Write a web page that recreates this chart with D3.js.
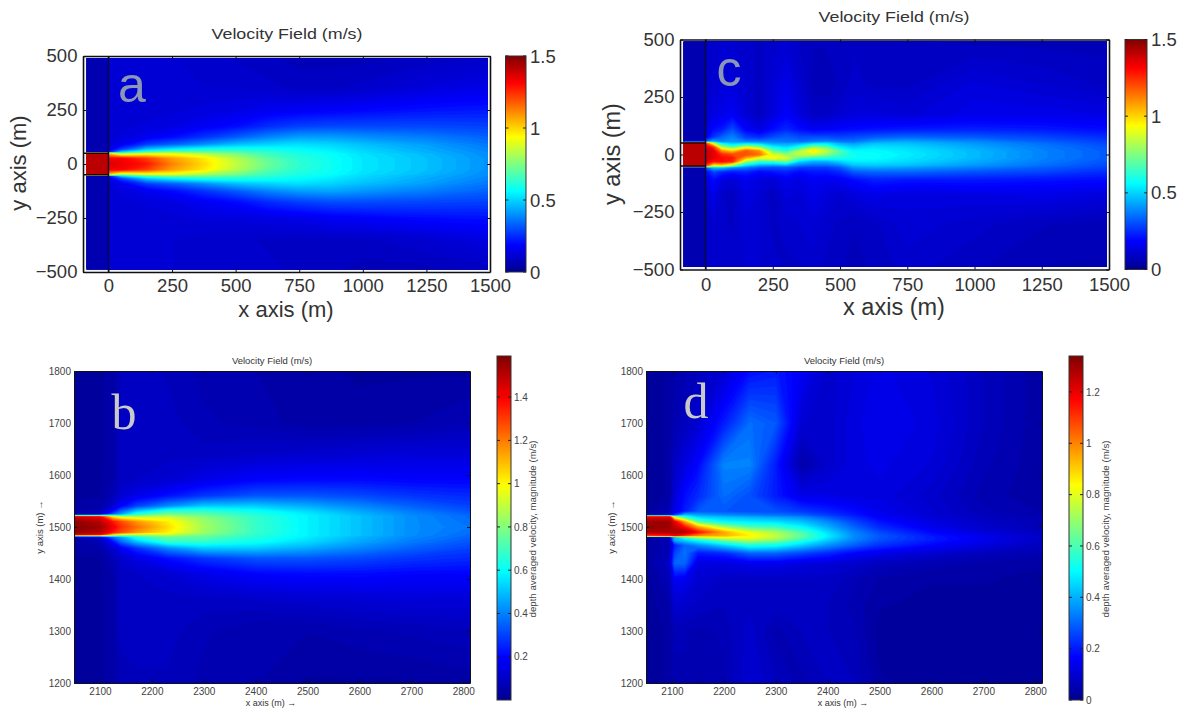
<!DOCTYPE html>
<html><head><meta charset="utf-8">
<script src="https://cdn.jsdelivr.net/npm/d3@7"></script>
<style>html,body{margin:0;padding:0;background:#fff}svg{display:block}text{font-family:"Liberation Sans",Arial,sans-serif}</style>
</head><body><svg id="c" width="1182" height="708"></svg>
<script>
// ---------- Panel a ----------
const xsA=[-100,-1,1,50,150,250,375,500,625,750,875,1000,1250,1500];
const ysA=[500,350,250,175,125,90,65,52,48,25,0,-25,-48,-52,-65,-90,-125,-175,-250,-350,-500];
const valuesA=[
[.06,.06,.11,.11,.11,.11,.10,.09,.08,.07,.07,.07,.08,.09],
[.06,.06,.11,.11,.11,.11,.11,.11,.10,.09,.09,.10,.13,.15],
[.06,.06,.11,.11,.11,.12,.13,.14,.16,.17,.18,.19,.21,.22],
[.06,.06,.11,.12,.13,.14,.17,.20,.25,.28,.29,.29,.29,.28],
[.06,.06,.11,.13,.16,.20,.26,.32,.38,.42,.42,.40,.37,.33],
[.06,.06,.12,.16,.28,.33,.40,.47,.50,.52,.50,.47,.42,.36],
[.06,.06,.15,.30,.50,.57,.62,.62,.60,.57,.54,.50,.44,.38],
[.06,.06,.27,.55,.72,.78,.74,.70,.64,.59,.56,.51,.45,.39],
[1.42,1.42,1.0,.78,.88,.90,.82,.74,.65,.60,.57,.52,.46,.39],
[1.42,1.42,1.32,1.32,1.22,1.08,.97,.83,.70,.62,.58,.53,.47,.40],
[1.42,1.42,1.38,1.34,1.28,1.12,.99,.85,.72,.63,.58,.53,.47,.40],
[1.42,1.42,1.32,1.32,1.22,1.08,.97,.83,.70,.62,.58,.53,.47,.40],
[1.42,1.42,1.0,.78,.88,.90,.82,.74,.65,.60,.57,.52,.46,.39],
[.06,.06,.27,.55,.72,.78,.74,.70,.64,.59,.56,.51,.45,.39],
[.06,.06,.15,.30,.50,.57,.62,.62,.60,.57,.54,.50,.44,.38],
[.06,.06,.12,.16,.28,.33,.40,.47,.50,.52,.50,.47,.42,.36],
[.06,.06,.11,.13,.16,.20,.26,.32,.38,.42,.43,.41,.37,.33],
[.06,.06,.11,.12,.13,.14,.17,.20,.25,.28,.30,.30,.29,.28],
[.06,.06,.11,.11,.11,.12,.13,.13,.14,.15,.17,.18,.20,.21],
[.06,.06,.11,.11,.11,.11,.10,.10,.09,.09,.09,.09,.11,.14],
[.06,.06,.11,.11,.11,.11,.10,.10,.10,.09,.08,.07,.07,.08]];
// ---------- Panel c ----------
const xsC=[-100,-1,1,30,60,100,150,200,250,300,350,400,450,500,550,625,750,1000,1250,1500];
const ysC=[500,300,175,110,75,55,48,30,15,0,-15,-30,-48,-55,-75,-110,-175,-300,-500];
const valuesC=[
[.05,.05,.10,.10,.11,.11,.10,.09,.10,.11,.09,.08,.08,.08,.09,.08,.08,.07,.07,.07],
[.05,.05,.10,.11,.12,.13,.11,.08,.12,.15,.11,.07,.07,.08,.10,.09,.09,.13,.11,.09],
[.05,.05,.11,.14,.15,.17,.12,.08,.13,.18,.13,.09,.09,.11,.13,.13,.12,.15,.15,.14],
[.05,.05,.13,.20,.22,.30,.18,.14,.20,.24,.20,.17,.18,.19,.20,.21,.22,.23,.22,.20],
[.05,.05,.17,.27,.33,.38,.28,.25,.30,.33,.30,.30,.30,.29,.30,.32,.34,.32,.29,.25],
[.05,.05,.35,.45,.40,.42,.38,.38,.38,.36,.35,.38,.40,.36,.36,.42,.44,.39,.33,.28],
[1.4,1.4,1.2,.85,.55,.48,.50,.48,.42,.42,.44,.50,.52,.45,.42,.47,.47,.41,.35,.29],
[1.42,1.42,1.38,1.25,.85,.72,.90,.80,.58,.52,.62,.80,.72,.55,.50,.53,.51,.44,.37,.31],
[1.42,1.42,1.4,1.35,1.1,1.0,1.18,1.1,.72,.62,.82,.97,.85,.68,.56,.56,.53,.46,.38,.32],
[1.42,1.42,1.4,1.36,1.25,1.2,1.2,1.15,.88,.78,.85,.85,.76,.66,.58,.57,.54,.46,.38,.32],
[1.42,1.42,1.4,1.35,1.3,1.28,1.05,.90,.95,.88,.70,.62,.62,.60,.58,.57,.53,.46,.38,.32],
[1.42,1.42,1.38,1.28,1.3,1.25,.80,.65,.65,.72,.50,.45,.45,.50,.54,.54,.51,.44,.37,.31],
[1.4,1.4,1.2,.90,.95,.75,.50,.42,.40,.42,.36,.34,.34,.38,.47,.48,.47,.41,.35,.29],
[.05,.05,.35,.50,.50,.42,.38,.32,.30,.32,.28,.28,.28,.32,.42,.44,.42,.38,.33,.28],
[.05,.05,.20,.28,.25,.22,.24,.20,.22,.24,.20,.22,.22,.25,.32,.34,.34,.31,.29,.25],
[.05,.05,.14,.20,.14,.12,.16,.13,.12,.16,.14,.17,.16,.17,.20,.23,.22,.22,.21,.20],
[.05,.05,.11,.15,.10,.08,.14,.12,.08,.13,.12,.15,.13,.11,.13,.15,.13,.14,.15,.13],
[.05,.05,.10,.11,.10,.09,.12,.11,.09,.10,.11,.12,.10,.09,.08,.09,.12,.10,.08,.07],
[.05,.05,.10,.10,.10,.10,.11,.11,.10,.09,.09,.10,.09,.08,.07,.08,.10,.08,.06,.06]];
// ---------- Panel b ----------
const xsB=[2050,2100,2125,2140,2170,2230,2300,2400,2500,2600,2700,2815];
const ysB=[1800,1700,1640,1590,1560,1540,1530,1524,1521,1519,1510,1500,1490,1486,1484,1481,1472,1460,1440,1410,1360,1300,1200];
const valuesB=[
[.03,.03,.04,.08,.09,.08,.06,.05,.04,.03,.03,.03],
[.03,.03,.04,.09,.09,.09,.07,.06,.04,.04,.05,.07],
[.03,.03,.04,.09,.09,.09,.09,.10,.11,.12,.13,.13],
[.03,.03,.05,.09,.10,.12,.16,.20,.21,.21,.20,.20],
[.03,.03,.07,.12,.16,.22,.28,.33,.33,.31,.28,.26],
[.04,.05,.12,.20,.30,.42,.52,.52,.47,.41,.35,.30],
[.04,.07,.22,.36,.52,.68,.68,.62,.54,.46,.39,.33],
[.04,.10,.35,.45,.66,.78,.74,.65,.57,.48,.41,.35],
[.70,.72,.75,.70,.78,.86,.78,.66,.58,.50,.42,.36],
[1.48,1.42,1.05,.95,.90,.92,.80,.67,.58,.50,.42,.36],
[1.56,1.50,1.36,1.28,1.16,1.02,.84,.68,.58,.50,.42,.37],
[1.58,1.54,1.42,1.32,1.22,1.05,.85,.68,.58,.50,.42,.38],
[1.56,1.50,1.36,1.28,1.16,1.02,.84,.68,.58,.50,.42,.37],
[1.48,1.42,1.05,.95,.90,.92,.80,.67,.58,.50,.42,.36],
[.70,.72,.75,.70,.78,.86,.78,.66,.58,.50,.42,.36],
[.04,.10,.35,.45,.64,.76,.74,.65,.57,.48,.41,.35],
[.04,.07,.22,.36,.50,.68,.68,.62,.54,.46,.39,.33],
[.04,.05,.12,.18,.28,.42,.52,.52,.47,.41,.35,.30],
[.03,.03,.07,.11,.15,.22,.28,.33,.33,.31,.28,.26],
[.03,.03,.05,.09,.10,.12,.16,.20,.21,.21,.20,.20],
[.03,.03,.04,.09,.09,.09,.09,.10,.11,.12,.13,.13],
[.03,.03,.04,.09,.09,.09,.07,.05,.05,.06,.07,.08],
[.03,.03,.04,.07,.08,.08,.06,.05,.03,.03,.03,.04]];
// ---------- Panel d ----------
const xsD=[2050,2095,2105,2125,2150,2200,2250,2300,2350,2400,2450,2500,2600,2700,2815];
const ysD=[1800,1700,1620,1560,1530,1522,1519,1510,1500,1490,1484,1481,1475,1465,1450,1430,1400,1350,1300,1200];
const valuesD=[
[.02,.03,.04,.05,.07,.10,.18,.20,.15,.09,.11,.13,.11,.07,.03],
[.02,.03,.05,.07,.10,.20,.31,.28,.10,.09,.12,.14,.12,.07,.03],
[.02,.03,.08,.12,.17,.34,.34,.20,.04,.09,.12,.13,.11,.06,.03],
[.02,.03,.11,.18,.22,.31,.27,.20,.13,.13,.12,.12,.09,.05,.03],
[.02,.06,.13,.20,.28,.28,.27,.27,.24,.21,.18,.14,.10,.06,.04],
[.03,.10,.25,.45,.40,.36,.34,.32,.30,.25,.20,.15,.10,.07,.05],
[1.2,1.2,.75,.55,.45,.42,.40,.38,.35,.28,.22,.16,.11,.07,.05],
[1.3,1.3,1.2,.95,.62,.50,.48,.46,.42,.35,.26,.19,.12,.08,.06],
[1.32,1.3,1.25,1.15,.95,.72,.60,.58,.50,.40,.30,.22,.14,.09,.06],
[1.28,1.28,1.28,1.28,1.15,.95,.80,.72,.60,.46,.34,.26,.17,.11,.07],
[1.1,1.15,1.2,1.1,1.0,.95,.85,.75,.62,.48,.35,.28,.19,.13,.08],
[.06,.10,.40,.60,.75,.85,.85,.76,.63,.48,.35,.28,.20,.14,.08],
[.03,.05,.40,.45,.52,.66,.74,.68,.56,.44,.34,.27,.20,.14,.08],
[.03,.05,.20,.30,.35,.44,.54,.52,.44,.36,.29,.23,.17,.12,.07],
[.03,.06,.25,.32,.20,.22,.30,.30,.26,.22,.17,.14,.10,.07,.05],
[.03,.08,.30,.30,.12,.12,.14,.14,.12,.11,.09,.07,.05,.04,.03],
[.02,.06,.15,.14,.10,.08,.08,.08,.08,.08,.06,.04,.03,.03,.02],
[.02,.04,.10,.09,.08,.07,.08,.08,.08,.07,.05,.03,.02,.02,.02],
[.02,.03,.06,.06,.05,.06,.09,.05,.07,.07,.06,.02,.02,.02,.02],
[.02,.03,.05,.05,.04,.05,.10,.07,.05,.07,.07,.03,.02,.02,.02]];
// ---------- Ticks and labels ----------
const titleText="Velocity Field (m/s)";
const xTicksTop=[0,250,500,750,1000,1250,1500];
const yTicksTop=[-500,-250,0,250,500];
const cbarTicksTop=[0,.5,1,1.5];
const xTicksBottom=[2100,2200,2300,2400,2500,2600,2700,2800];
const yTicksBottom=[1200,1300,1400,1500,1600,1700,1800];
const cbarTicksB=[.2,.4,.6,.8,1,1.2,1.4];
const cbarTicksD=[0,.2,.4,.6,.8,1,1.2];
const jetStops=[0,.125,.375,.625,.875,1];
const jetColors=["#00008f","#0000ff","#00ffff","#ffff00","#ff0000","#800000"];

const svg=d3.select("#c");
const defs=svg.append("defs");
const jet=d3.scaleLinear().domain(jetStops).range(jetColors).clamp(true);

function field(g,id,xs,ys,vals,x,y,vmax,box){
  const n=xs.length,m=ys.length;
  const ix=d3.scaleLinear().domain(xs.map((_,i)=>i+.5)).range(xs);
  const iy=d3.scaleLinear().domain(ys.map((_,i)=>i+.5)).range(ys);
  const path=d3.geoPath(d3.geoTransform({point(a,b){this.stream.point(x(ix(a)),y(iy(b)));}}));
  const step=vmax/96;
  const th=d3.range(0,vmax+step,step);
  const polys=d3.contours().size([n,m]).thresholds(th)(vals.flat());
  defs.append("clipPath").attr("id",id).append("rect")
    .attr("x",box[0]).attr("y",box[1]).attr("width",box[2]-box[0]).attr("height",box[3]-box[1]);
  const f=g.append("g").attr("clip-path",`url(#${id})`);
  f.append("rect").attr("x",box[0]).attr("y",box[1]).attr("width",box[2]-box[0]).attr("height",box[3]-box[1])
    .attr("fill",jet(0));
  f.selectAll("path").data(polys).join("path").attr("d",path)
    .attr("fill",d=>jet((d.value+step/2)/vmax)).attr("stroke",d=>jet((d.value+step/2)/vmax)).attr("stroke-width",.3);
}
function colorbar(g,id,vmax,ticks,bx,by,fs,lx,col){
  const grad=defs.append("linearGradient").attr("id",id).attr("x1",0).attr("x2",0).attr("y1",1).attr("y2",0);
  jetStops.forEach((s,i)=>grad.append("stop").attr("offset",s).attr("stop-color",jetColors[i]));
  g.append("rect").attr("x",bx[0]).attr("y",by[0]).attr("width",bx[1]-bx[0]).attr("height",by[1]-by[0])
    .attr("fill",`url(#${id})`).attr("stroke","#333").attr("stroke-width",1);
  const s=d3.scaleLinear().domain([0,vmax]).range([by[1],by[0]]);
  ticks.forEach(t=>{
    g.append("line").attr("x1",bx[0]).attr("x2",bx[0]+3).attr("y1",s(t)).attr("y2",s(t)).attr("stroke","#222");
    g.append("line").attr("x1",bx[1]-3).attr("x2",bx[1]).attr("y1",s(t)).attr("y2",s(t)).attr("stroke","#222");
    g.append("text").attr("x",lx).attr("y",s(t)).attr("dy",".36em").attr("font-size",fs).attr("fill",col).text(t);
  });
}
function axes(g,x,y,xt,yt,fs,col,tick,sw,pad){
  const [x0,x1]=x.range(),[y1,y0]=y.range();
  const ax=d3.axisBottom(x).tickValues(xt).tickSizeInner(-tick).tickSizeOuter(0).tickPadding(pad).tickFormat(d3.format("d"));
  const ay=d3.axisLeft(y).tickValues(yt).tickSizeInner(-tick).tickSizeOuter(0).tickPadding(fs*.3).tickFormat(d3.format("d"));
  const gx=g.append("g").attr("transform",`translate(0,${y1})`).call(ax);
  const gy=g.append("g").attr("transform",`translate(${x0},0)`).call(ay);
  g.append("g").attr("transform",`translate(0,${y0})`).call(d3.axisTop(x).tickValues(xt).tickSizeInner(-tick).tickSizeOuter(0).tickFormat(""));
  g.append("g").attr("transform",`translate(${x1},0)`).call(d3.axisRight(y).tickValues(yt).tickSizeInner(-tick).tickSizeOuter(0).tickFormat(""));
  g.selectAll(".domain").attr("stroke","#111").attr("stroke-width",sw);
  g.selectAll(".tick line").attr("stroke","#111");
  [gx,gy].forEach(a=>{a.attr("font-family",null);a.selectAll("text").attr("font-size",fs).attr("fill",col);});
}
function topPanel(o){
  const g=svg.append("g");
  const x=d3.scaleLinear().domain(o.xd).range(o.xr), y=d3.scaleLinear().domain([-500,500]).range(o.yr);
  const box=[o.xr[0]+3.5,o.yr[1]+2,o.xr[1]-2,o.yr[0]-2.5];
  g.append("rect").attr("x",o.xr[0]).attr("y",o.yr[1]).attr("width",o.xr[1]-o.xr[0]).attr("height",o.yr[0]-o.yr[1]).attr("fill","#f4f6ff");
  const fg=g.append("g").style("filter","blur(0.6px)");
  field(fg,o.id,o.xs,o.ys,o.vals,x,y,1.5,box);
  g.append("line").attr("x1",x(0)).attr("x2",x(0)).attr("y1",y(500)).attr("y2",y(-500)).attr("stroke","#0b0b3a").attr("stroke-width",1.4);
  g.append("path").attr("d",`M${o.xr[0]},${y(50)}H${x(0)}M${o.xr[0]},${y(-50)}H${x(0)}`).attr("stroke","#200").attr("stroke-width",1.4).attr("fill","none");
  axes(g,x,y,xTicksTop,yTicksTop,o.fs,"#333",3,1.6,o.pad);
  colorbar(g,o.id+"b",1.5,cbarTicksTop,o.bx,[o.yr[1],o.yr[0]],o.fs,o.bx[1]+4,"#333");
  g.append("text").attr("x",o.tx).attr("y",o.ty).attr("text-anchor","middle").attr("font-size",15).attr("fill","#333")
    .attr("textLength",151).attr("lengthAdjust","spacingAndGlyphs").text(titleText);
  g.append("text").attr("x",o.xl).attr("y",o.xy).attr("text-anchor","middle").attr("font-size",o.lfs).attr("fill","#333").text("x axis (m)");
  g.append("text").attr("transform",`translate(${o.yl},${o.yc}) rotate(-90)`).attr("text-anchor","middle").attr("font-size",o.lfs).attr("fill","#333").text("y axis (m)");
  g.append("text").attr("x",o.lx).attr("y",o.ly).attr("text-anchor","middle").attr("font-size",50).attr("fill","#8c97b5").text(o.letter);
}
function botPanel(o){
  const g=svg.append("g");
  const x=d3.scaleLinear().domain([2050,o.xmax]).range(o.xr), y=d3.scaleLinear().domain([1200,1800]).range([683,371]);
  field(g,o.id,o.xs,o.ys,o.vals,x,y,o.vmax,[o.xr[0],371,o.xr[1],683]);
  axes(g,x,y,xTicksBottom,yTicksBottom,10,"#444",3,1,4.5);
  colorbar(g,o.id+"b",o.vmax,o.ct,o.bx,[356,700],10,o.bx[1]+3,"#444");
  g.append("text").attr("x",(o.xr[0]+o.xr[1])/2).attr("y",364).attr("text-anchor","middle").attr("font-size",9.5).attr("fill","#333").text(titleText);
  g.append("text").attr("x",(o.xr[0]+o.xr[1])/2-1).attr("y",706).attr("text-anchor","middle").attr("font-size",9).attr("fill","#333").text("x axis (m) →");
  g.append("text").attr("transform",`translate(${o.xr[0]-31},527) rotate(-90)`).attr("text-anchor","middle").attr("font-size",9.5).attr("fill","#333").text("y axis (m) →");
  g.append("text").attr("transform",`translate(${o.cl},529) rotate(-90)`).attr("text-anchor","middle").attr("font-size",9.7).attr("fill","#444").text("depth averaged velocity, magnitude (m/s)");
  g.append("text").attr("x",o.lx).attr("y",o.ly).attr("text-anchor","middle").attr("font-size",50).style("font-family",'"Liberation Serif",serif').attr("fill","#c9c9c9").text(o.letter);
}
topPanel({id:"pa",xs:xsA,ys:ysA,vals:valuesA,xd:[-100,1500],xr:[83,490],yr:[272,56],bx:[505.5,526],fs:18.5,lfs:22,pad:7,tx:287,ty:39,xl:286,xy:317,yl:26,yc:163,lx:132,ly:102,letter:"a"});
topPanel({id:"pc",xs:xsC,ys:ysC,vals:valuesC,xd:[-95,1500],xr:[680,1109],yr:[269.5,39.5],bx:[1125,1147],fs:18.5,lfs:23.5,pad:8,tx:894,ty:22,xl:894,xy:315,yl:620,yc:154,lx:729,ly:86,letter:"c"});
botPanel({id:"pb",xs:xsB,ys:ysB,vals:valuesB,xmax:2813,xr:[74,470],vmax:1.59,ct:cbarTicksB,bx:[497,511],cl:536,lx:124,ly:429,letter:"b"});
botPanel({id:"pd",xs:xsD,ys:ysD,vals:valuesD,xmax:2813,xr:[646,1042],vmax:1.34,ct:cbarTicksD,bx:[1069,1083],cl:1109,lx:696,ly:418,letter:"d"});
</script></body></html>
